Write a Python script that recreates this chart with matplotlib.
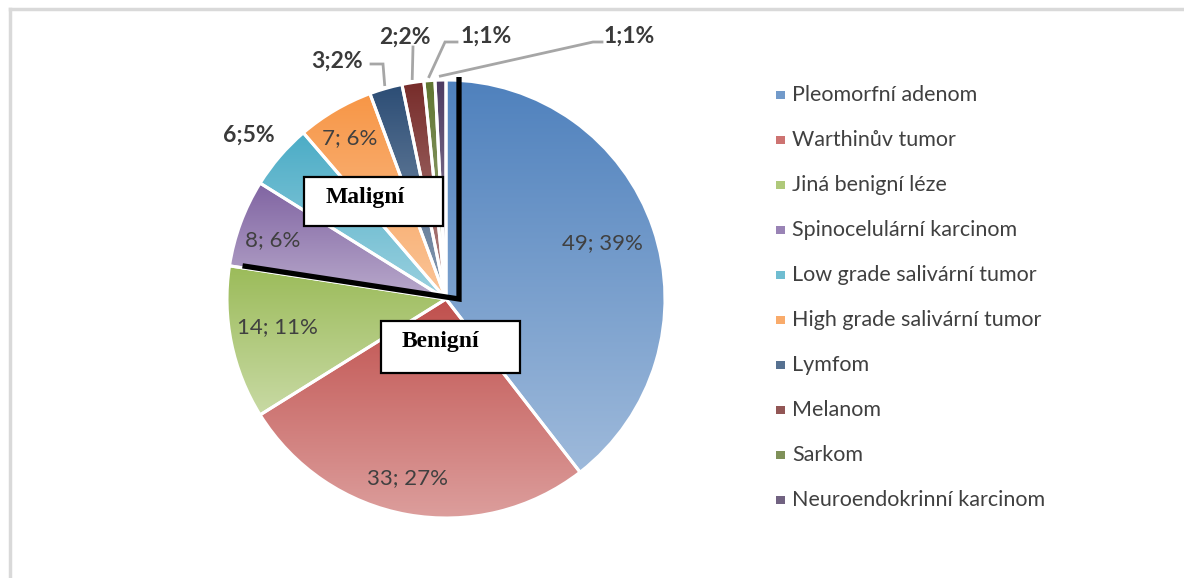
import numpy as np
import matplotlib
matplotlib.use("Agg")
import matplotlib.pyplot as plt
from matplotlib.patches import Rectangle
from matplotlib.colors import to_rgb

# ---------------- data ----------------
categories = ["Pleomorfní adenom", "Warthinův tumor", "Jiná benigní léze",
              "Spinocelulární karcinom", "Low grade salivární tumor",
              "High grade salivární tumor", "Lymfom", "Melanom", "Sarkom",
              "Neuroendokrinní karcinom"]
values = [49, 33, 14, 8, 6, 7, 3, 2, 1, 1]
percent_labels = ["39%", "27%", "11%", "6%", "5%", "6%", "2%", "2%", "1%", "1%"]
n_benign = 3
group_labels = ["Maligní", "Benigní"]

# ---------------- style ----------------
colors = ["#4F81BD", "#C0504D", "#9BBB59", "#8064A2", "#4BACC6",
          "#F79646", "#2C4D75", "#772C2A", "#5F7530", "#4D3B62"]
W, H = 1184, 578
CX, CY, R = 446, 279, 219
TXT = "#404040"
FONT = "Lato"

# inside labels: (radius factor, angle offset in degrees)
inside_spec = {0: (0.76, 0.8), 1: (0.835, -2.0), 2: (0.78, -2.2),
               3: (0.835, 1.5), 5: (0.855, 0.3)}
# outside labels: text centre (px), elbow points (px) or None
outside_spec = {4: ((249, 135), None),
                6: ((337, 61), [(371, 64), (383, 64)]),
                7: ((405, 37), [(413, 47)]),
                8: ((486, 36), [(457, 42), (445, 42)]),
                9: ((629, 36), [(602, 42), (593, 42)])}

fig = plt.figure(figsize=(W / 100, H / 100), dpi=100)
ax = fig.add_axes([0, 0, 1, 1])


def Y(ypx):
    return H - ypx


wedges, _ = ax.pie(values, colors=colors, startangle=90, counterclock=False,
                   center=(CX, CY), radius=R,
                   wedgeprops=dict(edgecolor="white", linewidth=2.2))

# gradient fills
for w, c in zip(wedges, colors):
    v = w.get_path().vertices
    x0, x1 = v[:, 0].min(), v[:, 0].max()
    y0, y1 = v[:, 1].min(), v[:, 1].max()
    top = np.array(to_rgb(c))
    bot = top * 0.55 + np.ones(3) * 0.45
    t = np.linspace(0, 1, 256)[:, None, None]
    grad = top[None, None, :] * (1 - t) + bot[None, None, :] * t
    im = ax.imshow(grad, extent=[x0, x1, y0, y1], origin="upper",
                   aspect="auto", interpolation="bilinear", zorder=1)
    im.set_clip_path(w)
    w.set_facecolor("none")
    w.set_zorder(2)

ax.set_aspect("auto")
ax.set_xlim(0, W)
ax.set_ylim(0, H)
ax.axis("off")

total = float(sum(values))
cum = np.concatenate([[0], np.cumsum(values)])
mid_angles = [90 - (cum[i] + values[i] / 2) / total * 360 for i in range(len(values))]

for i, val in enumerate(values):
    if i in inside_spec:
        rf, da = inside_spec[i]
        a = np.deg2rad(mid_angles[i] + da)
        ax.text(CX + rf * R * np.cos(a), CY + rf * R * np.sin(a),
                f"{val}; {percent_labels[i]}", ha="center", va="center",
                fontsize=16, color=TXT, family=FONT, zorder=6)
    else:
        (tx, ty), elbow = outside_spec[i]
        ax.text(tx, Y(ty), f"{val};{percent_labels[i]}", ha="center",
                va="center", fontsize=16.5, fontweight="bold", color="#3A3A3A",
                family=FONT, zorder=6)
        if elbow:
            a = np.deg2rad(mid_angles[i])
            ex, ey = CX + (R + 4) * np.cos(a), CY + (R + 4) * np.sin(a)
            pts = [(p[0], Y(p[1])) for p in elbow] + [(ex, ey)]
            ax.plot([p[0] for p in pts], [p[1] for p in pts], color="#A6A6A6",
                    lw=2, solid_joinstyle="miter", zorder=3)

# thick separators between benign and malignant groups
off = 13
a_b = np.deg2rad(90 - cum[n_benign] / total * 360)
ax.plot([CX + off, CX + off, CX + off + R * np.cos(a_b)],
        [CY + R + 3, CY, CY + R * np.sin(a_b)],
        color="black", lw=3.8, solid_joinstyle="miter", solid_capstyle="butt",
        zorder=4)

# group boxes
for lab, (bx, by, bw, bh), (tx, ty) in zip(
        group_labels,
        [(304, 177, 139, 49), (381, 321, 139, 52)],
        [(326, 198), (402, 342)]):
    ax.add_patch(Rectangle((bx, Y(by + bh)), bw, bh, facecolor="white",
                           edgecolor="black", lw=1.6, zorder=5))
    ax.text(tx, Y(ty), lab, ha="left", va="center", fontsize=17,
            fontweight="bold", family="Liberation Serif", color="black",
            zorder=6)

# legend
for i, (cat, c) in enumerate(zip(categories, colors)):
    yc = 95 + i * 45
    base = np.array(to_rgb(c))
    ax.add_patch(Rectangle((776, Y(yc + 4)), 9, 8,
                           facecolor=base * 0.8 + 0.2, edgecolor="none",
                           zorder=5))
    ax.text(792, Y(yc), cat, ha="left", va="center", fontsize=15.5,
            color=TXT, family=FONT, zorder=6)

# outer frame
fig.add_artist(plt.Line2D([9.5 / W, 1], [1 - 9 / H, 1 - 9 / H],
                          color="#D9D9D9", lw=2.5))
fig.add_artist(plt.Line2D([9.5 / W, 9.5 / W], [0, 1 - 9 / H],
                          color="#D9D9D9", lw=2.5))

fig.savefig("out.png", dpi=100, facecolor="white")
